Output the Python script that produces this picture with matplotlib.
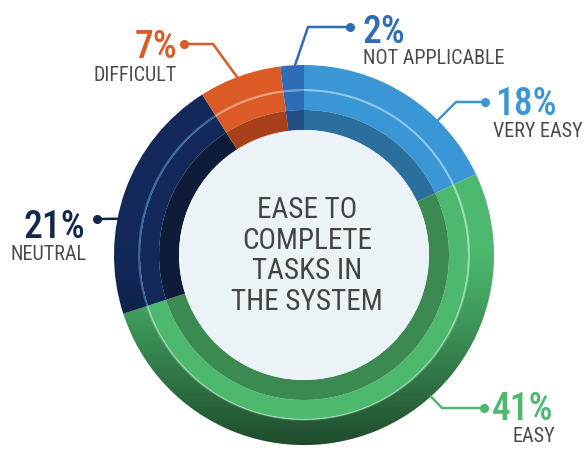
import os
import numpy as np
import matplotlib.pyplot as plt
import matplotlib.font_manager as fm
from matplotlib.patches import Wedge, Circle

labels = ["VERY EASY", "EASY", "NEUTRAL", "DIFFICULT", "NOT APPLICABLE"]
percents = [18, 41, 21, 7, 2]
# share of the ring each segment actually takes in the picture
arc_share = [18, 52, 21, 7, 2]

bright = ["#3a96d4", "#4cb96e", "#13295a", "#dc5a26", "#2e6db5"]
dark = ["#2b6f9e", "#3a8a52", "#0e1c3a", "#a9401c", "#234f85"]
liner = ["#8cc6ec", "#95dfae", "#3a6a9f", "#eea07e", "#6f9fd6"]
text_col = ["#3a96d4", "#4cb96e", "#13264d", "#dc5a26", "#2e6db5"]


# look for a condensed / narrow face, the reference uses a DIN-like condensed font
def find_cond(bold):
    found = []
    for f in fm.fontManager.ttflist:
        n = os.path.basename(f.fname).lower()
        if 'italic' in n or 'oblique' in n:
            continue
        if not ('condensed' in n or 'narrow' in n or 'cond' in n):
            continue
        if 'mono' in n or 'serif' in n and 'sans' not in n:
            continue
        if bold:
            if 'medium' in n or ('bold' in n and 'semi' not in n and 'extra' not in n):
                rank = 0 if 'medium' in n else 1
            else:
                continue
        else:
            if any(k in n for k in ['bold', 'light', 'thin', 'black', 'medium', 'semi']):
                continue
            rank = 0
        pref = 0
        for j, key in enumerate(['roboto', 'narrow', 'noto', 'opensans', 'dejavu']):
            if key in n:
                pref = j
                break
        else:
            pref = 9
        found.append((pref, rank, f.fname))
    if found:
        found.sort()
        return fm.FontProperties(fname=found[0][2])
    return None


reg = find_cond(False)
bld = find_cond(True)
condensed = reg is not None
if reg is None:
    reg = fm.FontProperties(family='Liberation Sans')
if bld is None:
    bld = fm.FontProperties(family='Liberation Sans', weight='bold')
k = 1.0 if condensed else 0.82

fig = plt.figure(figsize=(5.85, 4.5), dpi=100)
ax = fig.add_axes([0, 0, 1, 1])
ax.set_xlim(0, 585)
ax.set_ylim(450, 0)
ax.set_aspect('equal')
ax.axis('off')

cx, cy = 304, 255
R, r_line, r_in, r_c = 190, 165, 145, 125

cum = np.concatenate([[0], np.cumsum(arc_share)]) / sum(arc_share) * 360
for i in range(len(labels)):
    t1, t2 = cum[i] - 90, cum[i + 1] - 90
    ax.add_patch(Wedge((cx, cy), R, t1, t2, width=R - r_line, facecolor=bright[i], edgecolor='none'))
    ax.add_patch(Wedge((cx, cy), r_line + 1, t1, t2, width=2, facecolor=liner[i], edgecolor='none'))
    ax.add_patch(Wedge((cx, cy), r_line - 1, t1, t2, width=r_line - 1 - r_in, facecolor=bright[i], edgecolor='none'))
    ax.add_patch(Wedge((cx, cy), r_in, t1, t2, width=r_in - r_c, facecolor=dark[i], edgecolor='none'))

# darkening toward the bottom of the outer band
ring = Wedge((cx, cy), R, 0, 360, width=R - r_line, facecolor='none', edgecolor='none')
ax.add_patch(ring)
yy = np.linspace(0, 450, 451)
alpha = np.clip((yy - 245) / (445 - 245), 0, 1) ** 1.2 * 0.6
grad = np.zeros((451, 2, 4))
grad[:, :, 3] = alpha[:, None]
im = ax.imshow(grad, extent=(0, 585, 450, 0), aspect='auto', zorder=3, interpolation='bilinear')
im.set_clip_path(ring)

ax.add_patch(Circle((cx, cy), r_c, facecolor="#ecf3f7", edgecolor='none', zorder=4))
ax.text(cx + 3, cy + 1, "EASE TO\nCOMPLETE\nTASKS IN\nTHE SYSTEM", ha='center', va='center',
        fontproperties=reg, fontsize=21 * (1.0 if condensed else 0.92), color="#444444",
        linespacing=1.12, zorder=5)

# leader lines: anchor angle on ring (clockwise from top), elbow, dot
anchor_deg = [44.8, 138.1, 281.0, 339.4, 357.3]
elbows = [(456, 102), (442, 408), None, (213, 44), (308, 27)]
dots = [(485, 102), (484, 408), (97, 219), (184, 44), (350, 27)]
pct_pos = [(495, 115, 'left'), (553, 420, 'right'), (85, 238, 'right'), (177, 58, 'right'), (363, 43, 'left')]
lab_pos = [(493, 137, 'left'), (555, 442, 'right'), (87, 260, 'right'), (177, 81, 'right'), (363, 64, 'left')]

for i in range(len(labels)):
    a = np.radians(anchor_deg[i])
    ax_, ay_ = cx + R * np.sin(a), cy - R * np.cos(a)
    pts = [(ax_, ay_)]
    if elbows[i] is not None:
        pts.append(elbows[i])
    pts.append(dots[i])
    xs, ys = zip(*pts)
    ax.plot(xs, ys, color=text_col[i], lw=1.8, zorder=6, solid_capstyle='round')
    ax.plot(*dots[i], 'o', color=text_col[i], ms=5.5, zorder=6)
    px, py, ha = pct_pos[i]
    ax.text(px, py, f"{percents[i]}%", ha=ha, va='baseline', fontproperties=bld,
            fontsize=27 * k, color=text_col[i], zorder=6)
    lx, ly, ha = lab_pos[i]
    ax.text(lx, ly, labels[i], ha=ha, va='baseline', fontproperties=reg,
            fontsize=14.5 * k, color="#4a4a4a", zorder=6)

fig.savefig("out.png", dpi=100)
